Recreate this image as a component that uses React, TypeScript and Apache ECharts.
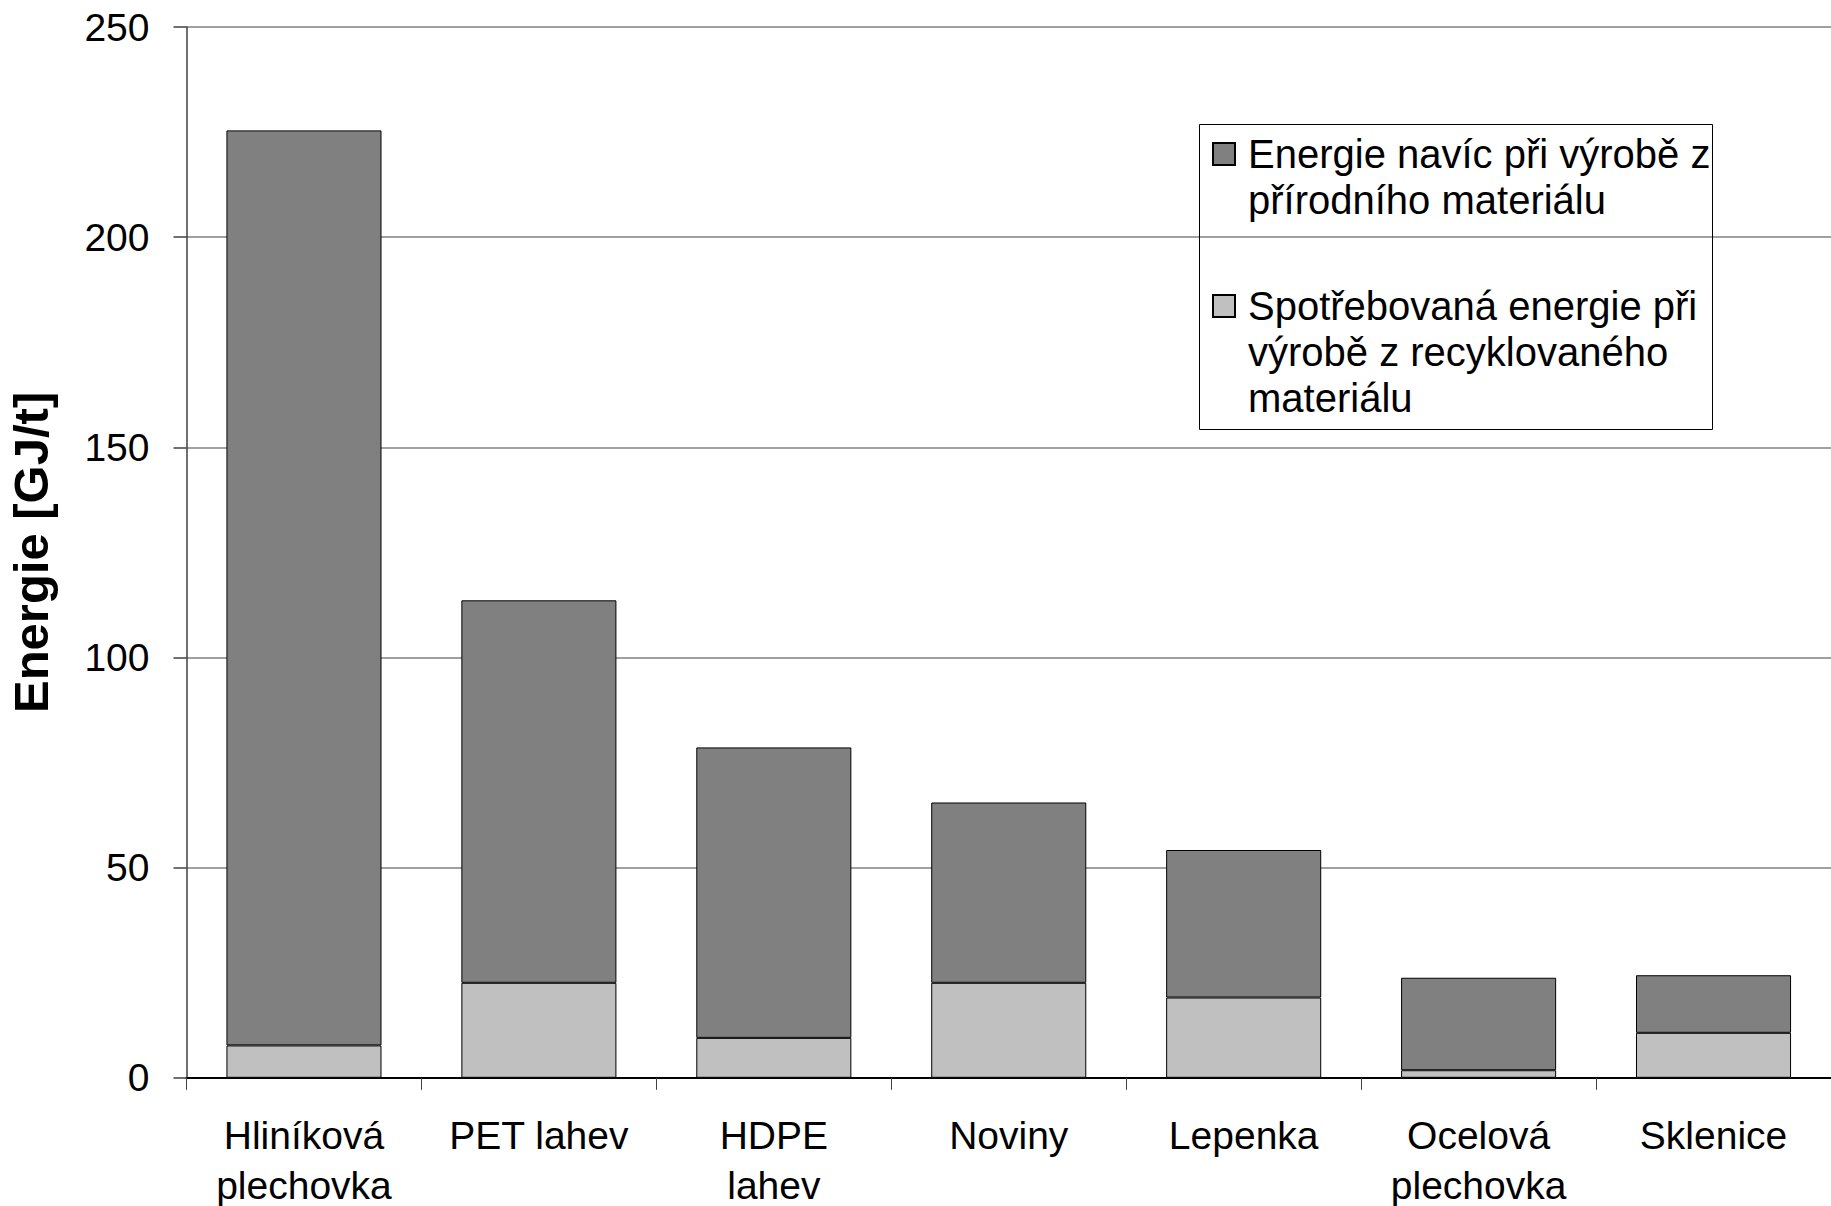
import React, { useEffect, useRef } from "react";
import * as echarts from "echarts";

const categories = [
  "Hliníková plechovka",
  "PET lahev",
  "HDPE lahev",
  "Noviny",
  "Lepenka",
  "Ocelová plechovka",
  "Sklenice",
];
const categoryLabelLines = [
  ["Hliníková", "plechovka"],
  ["PET lahev"],
  ["HDPE", "lahev"],
  ["Noviny"],
  ["Lepenka"],
  ["Ocelová", "plechovka"],
  ["Sklenice"],
];
const recycledEnergy = [7.7, 22.6, 9.5, 22.6, 19.1, 1.8, 10.7];
const extraEnergy = [217.7, 91.0, 69.1, 42.9, 35.1, 22.0, 13.7];
const seriesNames = [
  "Energie navíc při výrobě z přírodního materiálu",
  "Spotřebovaná energie při výrobě z recyklovaného materiálu",
];
const legendLines = [
  ["Energie navíc při výrobě z", "přírodního materiálu"],
  ["Spotřebovaná energie při", "výrobě z recyklovaného", "materiálu"],
];
const yTicks = { min: 0, max: 250, interval: 50 };
const yAxisTitle = "Energie [GJ/t]";

const FONT = "'Liberation Sans', Arial, sans-serif";

export default function App() {
  const ref = useRef<HTMLDivElement>(null);
  useEffect(() => {
    if (!ref.current) return;
    const chart = echarts.init(ref.current, null, { renderer: "svg" });
    const legendFormatter = (idx: number) => () => {
      const lines = legendLines[idx];
      const blanks: string[] = [];
      for (let i = 0; i < lines.length - 1; i++) blanks.push("{t| }");
      return blanks.concat(lines.map((l) => `{t|${l}}`)).join("\n");
    };
    const legendText = {
      fontFamily: FONT,
      fontSize: 40,
      color: "#000",
      lineHeight: 46,
      rich: {
        t: { fontFamily: FONT, fontSize: 40, color: "#000", lineHeight: 46, padding: [0, 0, 0, 8] },
      },
    };
    const legendBase = {
      orient: "vertical",
      left: 1212,
      padding: 0,
      itemWidth: 22,
      itemHeight: 22,
      icon: "rect",
      selectedMode: false,
      textStyle: legendText,
    };
    chart.setOption({
      animation: false,
      backgroundColor: "#fff",
      textStyle: { fontFamily: FONT },
      grid: {
        left: 186.5,
        right: 0,
        top: 27,
        bottom: 128.2,
        containLabel: false,
        outerBoundsMode: "none",
      },
      legend: [
        { ...legendBase, data: [seriesNames[0]], top: 85, formatter: legendFormatter(0) },
        { ...legendBase, data: [seriesNames[1]], top: 191, formatter: legendFormatter(1) },
      ],
      graphic: [
        {
          type: "rect",
          shape: { x: 1199.5, y: 124.5, width: 513, height: 305 },
          style: { fill: "none", stroke: "#000", lineWidth: 1 },
          silent: true,
          z: 10,
        },
      ],
      xAxis: {
        type: "category",
        data: categories,
        axisLine: { lineStyle: { color: "#000", width: 2 } },
        axisTick: { show: true, length: 12, lineStyle: { color: "#404040", width: 1 } },
        axisLabel: {
          fontFamily: FONT,
          fontSize: 39,
          color: "#000",
          lineHeight: 50,
          margin: 33,
          interval: 0,
          formatter: (_v: string, i: number) => categoryLabelLines[i].join("\n"),
        },
      },
      yAxis: {
        type: "value",
        min: yTicks.min,
        max: yTicks.max,
        interval: yTicks.interval,
        name: yAxisTitle,
        nameLocation: "middle",
        nameGap: 131,
        nameTextStyle: { fontFamily: FONT, fontSize: 49, fontWeight: "bold", color: "#000" },
        axisLine: { show: true, lineStyle: { color: "#404040", width: 1.5 } },
        axisTick: { show: true, length: 13, lineStyle: { color: "#404040", width: 1.5 } },
        axisLabel: { fontFamily: FONT, fontSize: 39, color: "#000", margin: 37 },
        splitLine: { show: true, lineStyle: { color: "#808080", width: 1.5 } },
      },
      series: [
        {
          name: seriesNames[1],
          type: "bar",
          stack: "total",
          data: recycledEnergy,
          barCategoryGap: "34%",
          itemStyle: { color: "#c0c0c0", borderColor: "#000", borderWidth: 1 },
        },
        {
          name: seriesNames[0],
          type: "bar",
          stack: "total",
          data: extraEnergy,
          barCategoryGap: "34%",
          itemStyle: { color: "#808080", borderColor: "#000", borderWidth: 1 },
        },
      ],
    });
    return () => chart.dispose();
  }, []);
  return (
    <div
      ref={ref}
      style={{ position: "absolute", left: 0, top: 0, width: 1831, height: 1206, background: "#fff" }}
    />
  );
}
